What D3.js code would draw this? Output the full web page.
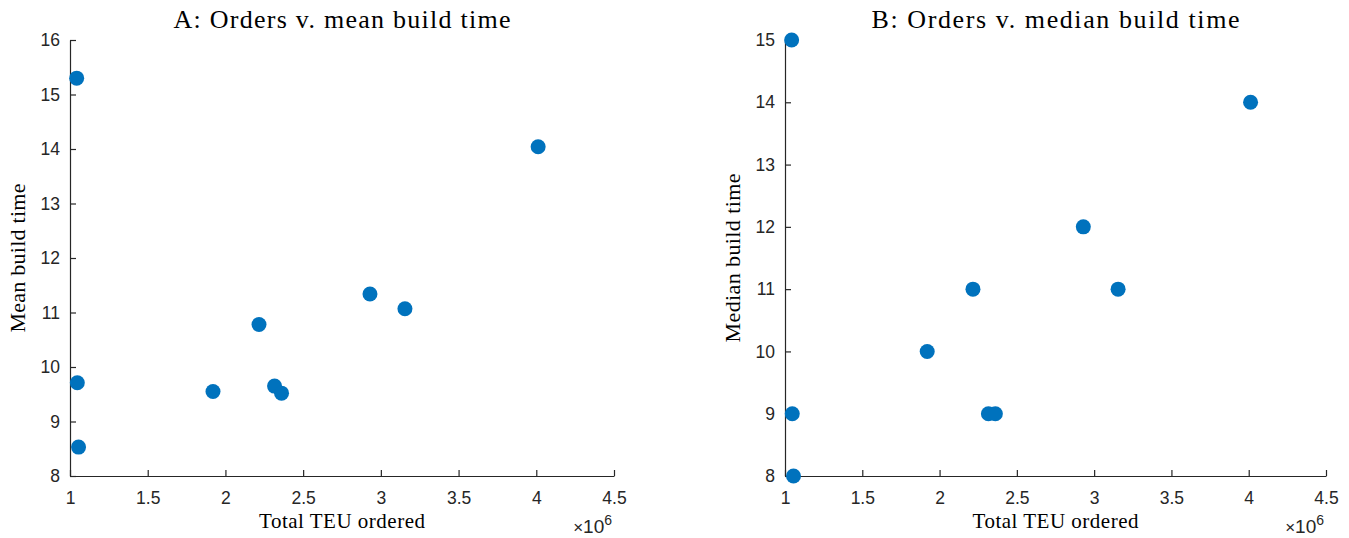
<!DOCTYPE html>
<html><head><meta charset="utf-8">
<script src="https://cdn.jsdelivr.net/npm/d3@7"></script>
<style>
body{margin:0;background:#fff;}
svg{display:block;}
.tick text{font-family:"Liberation Sans",Arial,sans-serif;font-size:17.5px;fill:#262626;}
.ttl{font-family:"Liberation Serif","Times New Roman",serif;fill:#000;}
</style></head>
<body>
<svg id="chart" width="1349" height="538"></svg>
<script>
// Data
const teuOrdered = [1043000, 1047000, 1055000, 1920000, 2216000, 2316000, 2361000, 2930000, 3155000, 4012000];
const meanBuild  = [15.30, 9.71, 8.53, 9.55, 10.78, 9.65, 9.52, 11.34, 11.07, 14.04];
const medianBuild= [15, 9, 8, 10, 11, 9, 9, 12, 11, 14];
const xTicks = [1, 1.5, 2, 2.5, 3, 3.5, 4, 4.5];
const yTicksA = [8, 9, 10, 11, 12, 13, 14, 15, 16];
const yTicksB = [8, 9, 10, 11, 12, 13, 14, 15];

const svg = d3.select("#chart");
const color = "#0072BD", axisCol = "#262626";

function panel(cfg){
  const g = svg.append("g");
  const x = d3.scaleLinear().domain([1e6, 4.5e6]).range([cfg.x0, cfg.x1]);
  const y = d3.scaleLinear().domain(cfg.yDomain).range([cfg.yb, cfg.yt]);
  const xa = g.append("g").attr("transform",`translate(0,${cfg.yb})`)
    .call(d3.axisBottom(x).tickValues(xTicks.map(v=>v*1e6)).tickFormat(v=>d3.format("")(v/1e6)).tickSizeInner(-6).tickSizeOuter(0).tickPadding(16));
  const ya = g.append("g").attr("transform",`translate(${cfg.x0},0)`)
    .call(d3.axisLeft(y).tickValues(cfg.yTicks).tickFormat(d3.format("d")).tickSizeInner(-6).tickSizeOuter(0).tickPadding(10));
  [xa,ya].forEach(a=>{a.selectAll("path,line").attr("stroke",axisCol).attr("stroke-width",1.2);});
  g.selectAll("circle").data(teuOrdered).join("circle")
    .attr("cx",d=>x(d)).attr("cy",(d,i)=>y(cfg.vals[i])).attr("r",7.5).attr("fill",color);
  const cx = (cfg.x0+cfg.x1)/2;
  g.append("text").attr("class","ttl").attr("x",cx).attr("y",28)
    .attr("text-anchor","middle").style("font-size","26px")
    .attr("textLength",cfg.titleLen).attr("lengthAdjust","spacing").text(cfg.title);
  g.append("text").attr("class","ttl").attr("x",cx).attr("y",528)
    .attr("text-anchor","middle").style("font-size","21px")
    .attr("textLength",166).attr("lengthAdjust","spacing").text("Total TEU ordered");
  g.append("text").attr("class","ttl")
    .attr("transform",`translate(${cfg.x0-45},${(cfg.yb+cfg.yt)/2}) rotate(-90)`)
    .attr("text-anchor","middle").style("font-size","22px")
    .attr("textLength",cfg.ylabLen).attr("lengthAdjust","spacing").text(cfg.ylabel);
  const m = g.append("text").attr("x",cfg.x1-2).attr("y",533).attr("text-anchor","end")
    .style("font-family","Liberation Sans, Arial, sans-serif").style("font-size","19px").attr("fill",axisCol);
  m.append("tspan").style("font-size","17px").text("\u00d7");
  m.append("tspan").text("10");
  m.append("tspan").attr("dy",-8).style("font-size","14px").text("6");
}

panel({x0:70,x1:614,yb:476,yt:40,yDomain:[8,16],yTicks:yTicksA,vals:meanBuild,
  title:"A: Orders v. mean build time",titleLen:337,ylabel:"Mean build time",ylabLen:149});
panel({x0:785,x1:1326,yb:476,yt:40,yDomain:[8,15],yTicks:yTicksB,vals:medianBuild,
  title:"B: Orders v. median build time",titleLen:368,ylabel:"Median build time",ylabLen:169});
</script>
</body></html>
